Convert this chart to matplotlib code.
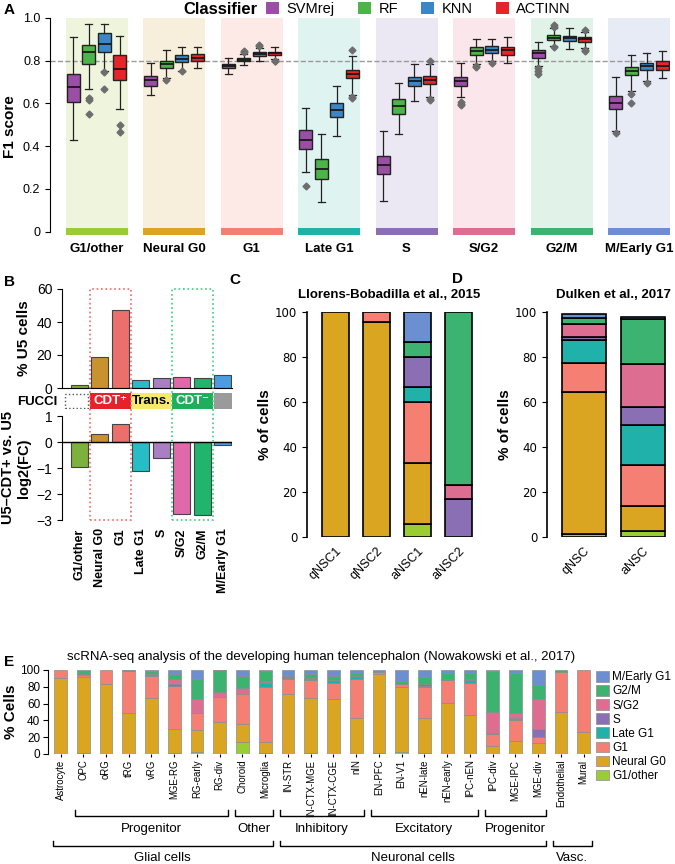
import matplotlib
matplotlib.use("Agg")
import matplotlib.pyplot as plt
from matplotlib.patches import Patch, Rectangle
from matplotlib.transforms import blended_transform_factory
import numpy as np

plt.rcParams['font.family'] = ['Liberation Sans', 'DejaVu Sans']

W, H = 675, 864

# ---- shared phase info ----
phases = ["G1/other", "Neural G0", "G1", "Late G1", "S", "S/G2", "G2/M", "M/Early G1"]
phase_colors = ["#9acd32", "#daa520", "#f47f72", "#20b2aa", "#8a6fb5", "#dd6e92", "#3cb371", "#6b8fd1"]
phase_bg = ["#eef5dc", "#f7efdb", "#fdeae6", "#dff3f1", "#ebe8f3", "#fbe6ec", "#e1f2e8", "#e6ebf6"]

# ---- panel A: F1 scores (whislo, q1, med, q3, whishi) ----
classifiers = ["SVMrej", "RF", "KNN", "ACTINN"]
clf_colors = ["#9a4ea4", "#4db449", "#3a86c6", "#e52529"]

svm_box = [(0.43, 0.606, 0.677, 0.738, 0.91), (0.638, 0.683, 0.71, 0.73, 0.79),
           (0.738, 0.765, 0.775, 0.787, 0.812), (0.28, 0.388, 0.43, 0.475, 0.577),
           (0.145, 0.268, 0.31, 0.353, 0.47), (0.63, 0.683, 0.703, 0.725, 0.79),
           (0.775, 0.815, 0.835, 0.852, 0.888), (0.47, 0.573, 0.6, 0.635, 0.722)]
svm_fliers = [[], [], [], [0.215], [], [0.605, 0.598, 0.593], [0.765, 0.75, 0.74], [0.46]]

rf_box = [(0.667, 0.785, 0.84, 0.875, 0.97), (0.718, 0.765, 0.783, 0.8, 0.848),
          (0.78, 0.797, 0.805, 0.812, 0.832), (0.14, 0.247, 0.294, 0.34, 0.457),
          (0.457, 0.549, 0.59, 0.623, 0.695), (0.785, 0.828, 0.845, 0.862, 0.9),
          (0.87, 0.895, 0.908, 0.92, 0.955), (0.66, 0.732, 0.752, 0.772, 0.825)]
rf_fliers = [[0.625, 0.615, 0.55], [0.71], [0.84, 0.845], [], [], [0.775, 0.77],
             [0.865, 0.96, 0.965], [0.645, 0.6]]

knn_box = [(0.75, 0.84, 0.878, 0.93, 0.97), (0.754, 0.792, 0.81, 0.826, 0.862),
           (0.80, 0.822, 0.832, 0.842, 0.86), (0.45, 0.538, 0.569, 0.6, 0.68),
           (0.612, 0.68, 0.703, 0.725, 0.783), (0.8, 0.835, 0.852, 0.868, 0.9),
           (0.855, 0.893, 0.905, 0.918, 0.955), (0.705, 0.757, 0.775, 0.79, 0.835)]
knn_fliers = [[0.745, 0.667], [0.75], [0.87, 0.875], [], [], [0.79], [], [0.695]]

actinn_box = [(0.575, 0.71, 0.76, 0.826, 0.914), (0.765, 0.8, 0.815, 0.832, 0.862),
              (0.81, 0.825, 0.835, 0.843, 0.865), (0.64, 0.718, 0.738, 0.758, 0.82),
              (0.63, 0.69, 0.71, 0.728, 0.785), (0.79, 0.825, 0.848, 0.865, 0.91),
              (0.86, 0.888, 0.9, 0.91, 0.935), (0.72, 0.755, 0.775, 0.8, 0.845)]
actinn_fliers = [[0.5, 0.465], [], [0.8, 0.797], [0.85, 0.63, 0.625],
                 [0.62, 0.615, 0.80], [], [0.945, 0.85, 0.845], []]

# ---- panel B ----
pct_u5 = [2, 19, 47, 5, 6, 6.5, 6.3, 8]
log2fc = [-0.95, 0.3, 0.68, -1.12, -0.63, -2.78, -2.8, -0.1]
b_colors = ["#7cb13b", "#c8932f", "#eb6f6b", "#27bcc6", "#a97fc1", "#e06aa9", "#21b46b", "#4b9de0"]

# ---- panel C (rows follow phases) ----
c_samples = ["qNSC1", "qNSC2", "aNSC1", "aNSC2"]
c_pct = [[0, 0, 6, 0], [100, 95.5, 27, 0], [0, 4.5, 27, 0], [0, 0, 6.5, 0],
         [0, 0, 13.5, 17], [0, 0, 0, 6], [0, 0, 6.5, 77], [0, 0, 13.5, 0]]

# ---- panel D ----
d_samples = ["qNSC", "aNSC"]
d_pct = [[1.5, 2.5], [63, 11.5], [13, 18], [10, 18], [1.5, 8], [5.5, 19], [3, 20], [1.5, 1]]

# ---- panel E ----
e_types = ["Astrocyte", "OPC", "oRG", "tRG", "vRG", "MGE-RG", "RG-early", "RG-div", "Choroid",
           "Microglia", "IN-STR", "IN-CTX-MGE", "IN-CTX-CGE", "nIN", "EN-PFC", "EN-V1",
           "nEN-late", "nEN-early", "IPC-nEN", "IPC-div", "MGE-IPC", "MGE-div",
           "Endothelial", "Mural"]
e_g1other = [0.5, 1.5, 0, 0, 0, 1, 2, 0, 14, 1, 0.5, 1, 0.5, 0, 1, 2, 1, 0, 0, 0, 0, 0, 0, 0]
e_neuralg0 = [89.5, 90.5, 83, 49, 67, 29, 26, 38.5, 22, 13.5, 71.5, 66, 64.5, 43, 94, 78, 42, 61,
              47, 10, 15.5, 13.5, 50, 26]
e_g1 = [10, 1.5, 17, 50, 26, 50.5, 21, 29.5, 36, 65.5, 17, 21, 19, 46, 3, 3, 37, 27, 37.5, 14,
        24.5, 7, 47.5, 74]
e_lateg1 = [0, 0, 0, 0.5, 0.5, 1, 0, 0, 0, 4, 1, 1.5, 4, 3.5, 0, 0.5, 1.5, 1, 3.5, 0, 1.5, 0, 0, 0]
e_s = [0, 0, 0, 0, 1, 1.5, 0, 0, 0, 1.5, 0.5, 0.5, 0, 0, 0, 0, 1.5, 0.5, 1, 0.5, 1, 9.5, 0, 0]
e_sg2 = [0, 1.5, 0, 0, 1, 6.5, 17, 6, 6.5, 1.5, 0, 0, 0, 0, 0, 0, 0.5, 0, 0, 25, 6, 35, 0, 0]
e_g2m = [0, 5, 0, 0.5, 3, 5.5, 23, 25.5, 14.5, 12, 2, 5, 5, 4, 0, 4, 8.5, 6.5, 7, 49.5, 48.5,
         17.5, 2.5, 0]
e_mearly = [0, 0, 0, 0, 1.5, 5, 11, 0.5, 7, 1, 7.5, 5, 7, 3.5, 2, 12.5, 8, 4, 4, 1, 3, 17.5, 0, 0]
e_groups1 = [("Progenitor", 1, 7), ("Other", 8, 9), ("Inhibitory", 10, 13),
             ("Excitatory", 14, 18), ("Progenitor", 19, 21)]
e_groups2 = [("Glial cells", 0, 9), ("Neuronal cells", 10, 21), ("Vasc.", 22, 23)]


fig = plt.figure(figsize=(W / 100, H / 100), dpi=100)


def px_axes(left, top, right, bottom):
    return fig.add_axes([left / W, 1 - bottom / H, (right - left) / W, (bottom - top) / H])


def panel_label(x, y, s):
    fig.text(x / W, 1 - y / H, s, fontsize=11, fontweight='bold', ha='left', va='center')


# ================= A =================
axA = px_axes(50, 18, 670, 236)
xs = np.arange(len(phases))
axA.bar(xs, 1.016, bottom=-0.016, width=0.8, color=phase_bg, zorder=0)
axA.bar(xs, 0.032, bottom=-0.016, width=0.8, color=phase_colors, zorder=1)
axA.axhline(0.8, color='#999999', ls='--', lw=1, zorder=1)

offsets = [-0.3, -0.1, 0.1, 0.3]
all_box = [svm_box, rf_box, knn_box, actinn_box]
all_fliers = [svm_fliers, rf_fliers, knn_fliers, actinn_fliers]
for j in range(4):
    stats = []
    for i in range(len(phases)):
        lo, q1, med, q3, hi = all_box[j][i]
        stats.append(dict(whislo=lo, q1=q1, med=med, q3=q3, whishi=hi, fliers=all_fliers[j][i]))
    bp = axA.bxp(stats, positions=xs + offsets[j], widths=0.17, patch_artist=True,
                 manage_ticks=False, zorder=3,
                 boxprops=dict(edgecolor='#222222', linewidth=1),
                 medianprops=dict(color='#111111', linewidth=1.2),
                 whiskerprops=dict(color='#222222', linewidth=0.9),
                 capprops=dict(color='#222222', linewidth=0.9),
                 capwidths=0.09,
                 flierprops=dict(marker='D', markerfacecolor='#6d6d6d',
                                 markeredgecolor='#6d6d6d', markersize=3.5))
    for b in bp['boxes']:
        b.set_facecolor(clf_colors[j])

axA.set_xlim(-0.6, 7.4)
axA.set_ylim(-0.02, 1.0)
axA.set_yticks([0, 0.2, 0.4, 0.6, 0.8, 1.0], ["0", "0.2", "0.4", "0.6", "0.8", "1.0"], fontsize=9)
axA.set_xticks(xs, phases, fontweight='bold', fontsize=9.5)
axA.tick_params(axis='x', length=0, pad=5)
for s in ['top', 'right', 'bottom']:
    axA.spines[s].set_visible(False)
axA.spines['left'].set_bounds(0, 1)
axA.set_ylabel("F1 score", fontweight='bold', fontsize=11, labelpad=4)

fig.text(183 / W, 1 - 9 / H, "Classifier", fontsize=12, fontweight='bold', va='center', ha='left')
handles = [Patch(facecolor=c, edgecolor='none') for c in clf_colors]
fig.legend(handles, classifiers, ncol=4, loc='center left', bbox_to_anchor=(266 / W, 1 - 9 / H),
           frameon=False, fontsize=10.5, handlelength=0.9, handleheight=0.9,
           handletextpad=0.5, columnspacing=1.6, borderaxespad=0, borderpad=0)

panel_label(4, 10, "A")

# ================= B =================
axB1 = px_axes(62, 289, 232, 388)
axB1.bar(xs, pct_u5, width=0.82, color=b_colors, edgecolor='#444444', lw=0.8)
axB1.set_xlim(-0.85, 7.45)
axB1.set_ylim(0, 60)
axB1.set_yticks([0, 20, 40, 60])
axB1.tick_params(axis='y', labelsize=10)
axB1.set_xticks([])
for s in ['top', 'right']:
    axB1.spines[s].set_visible(False)
axB1.set_ylabel("% U5 cells", fontweight='bold', fontsize=11)

axF = px_axes(62, 393, 232, 409)
axF.set_xlim(-0.85, 7.45)
axF.set_ylim(0, 1)
axF.axis('off')
axF.add_patch(Rectangle((-0.72, 0.04), 1.14, 0.92, fill=False, ls=':', ec='#555555', lw=1))
fucci = [(0.5, 2.0, "#e8202a", "CDT⁺", "white"), (2.55, 1.9, "#f5ea6a", "Trans.", "black"),
         (4.5, 2.0, "#1fae5a", "CDT⁻", "white"), (6.55, 0.9, "#9a9a9a", "", "white")]
for x0, w, col, lab, tc in fucci:
    axF.add_patch(Rectangle((x0, 0), w, 1, color=col, lw=0))
    axF.text(x0 + w / 2, 0.5, lab, color=tc, fontweight='bold', fontsize=9.5, ha='center', va='center')
fig.text(57 / W, 1 - 402 / H, "FUCCI", fontsize=9.5, fontweight='bold', ha='right', va='center')

axB2 = px_axes(62, 416, 232, 520)
axB2.bar(xs, log2fc, width=0.82, color=b_colors, edgecolor='#444444', lw=0.8)
axB2.axhline(0, color='black', lw=1)
axB2.set_xlim(-0.85, 7.45)
axB2.set_ylim(-3, 1)
axB2.set_yticks([-3, -2, -1, 0, 1], ["\u22123", "\u22122", "\u22121", "0", "1"], fontsize=10)
axB2.set_xticks(xs, phases, rotation=90, fontweight='bold', fontsize=9)
axB2.tick_params(axis='x', length=0, pad=6)
for s in ['top', 'right', 'bottom']:
    axB2.spines[s].set_visible(False)
axB2.set_ylabel("U5\u2013CDT+ vs. U5\nlog2(FC)", fontweight='bold', fontsize=10.5)

trans = blended_transform_factory(axB1.transData, fig.transFigure)
y_top = 1 - 289 / H
y_bot = 1 - 520 / H
fig.add_artist(Rectangle((0.5, y_bot), 2.0, y_top - y_bot, transform=trans, fill=False,
                         ls=':', ec='#f06a6a', lw=1.2, clip_on=False))
fig.add_artist(Rectangle((4.5, y_bot), 2.0, y_top - y_bot, transform=trans, fill=False,
                         ls=':', ec='#3dcc80', lw=1.2, clip_on=False))
panel_label(4, 282, "B")


# ================= C / D =================
def stacked(ax, samples, table, width):
    x = np.arange(len(samples))
    cum = np.zeros(len(samples))
    for k, row in enumerate(table):
        v = np.array(row, dtype=float)
        m = v > 0
        ax.bar(x[m], v[m], bottom=cum[m], width=width, color=phase_colors[k],
               edgecolor='black', lw=1.2)
        cum += v
    ax.set_ylim(0, 100)
    ax.set_yticks([0, 20, 40, 60, 80, 100])
    ax.tick_params(axis='y', labelsize=8.5)
    for lab in ax.get_yticklabels():
        lab.set_family('DejaVu Sans')
    ax.set_xticks(x, samples, rotation=45, ha='right', rotation_mode='anchor', fontsize=9)
    ax.tick_params(axis='x', length=0, pad=6)
    for s in ['top', 'right', 'bottom']:
        ax.spines[s].set_visible(False)
    ax.spines['left'].set_linewidth(1.2)
    ax.set_ylabel("% of cells", fontweight='bold', fontsize=11, labelpad=2)


axC = px_axes(307, 312, 479, 537)
stacked(axC, c_samples, c_pct, 0.67)
axC.set_xlim(-0.7, 3.5)
fig.text(389 / W, 1 - 295 / H, "Llorens-Bobadilla et al., 2015", fontsize=9.5,
         fontweight='bold', ha='center', va='center')
panel_label(229, 280, "C")

axD = px_axes(547, 312, 674, 537)
stacked(axD, d_samples, d_pct, 0.75)
axD.set_xlim(-0.63, 1.53)
fig.text(613 / W, 1 - 295 / H, "Dulken et al., 2017", fontsize=9.5,
         fontweight='bold', ha='center', va='center')
panel_label(452, 279, "D")

# ================= E =================
axE = px_axes(48, 670, 595, 754)
e_rows = [e_g1other, e_neuralg0, e_g1, e_lateg1, e_s, e_sg2, e_g2m, e_mearly]
xe = np.arange(len(e_types))
cum = np.zeros(len(e_types))
for k, row in enumerate(e_rows):
    v = np.array(row, dtype=float)
    m = v > 0
    axE.bar(xe[m], v[m], bottom=cum[m], width=0.56, color=phase_colors[k],
            edgecolor='#8c8c8c', lw=0.5)
    cum += v
axE.set_xlim(-0.55, 23.5)
axE.set_ylim(0, 100)
axE.set_yticks([0, 20, 40, 60, 80, 100])
axE.tick_params(axis='y', labelsize=8.5, pad=2)
axE.set_xticks(xe, e_types, rotation=90, fontsize=6.9)
axE.tick_params(axis='x', length=2.5, pad=1.5)
for s in ['top', 'right', 'bottom']:
    axE.spines[s].set_visible(False)
axE.set_ylabel("% Cells", fontweight='bold', fontsize=11, labelpad=2)
axE.set_title("scRNA-seq analysis of the developing human telencephalon (Nowakowski et al., 2017)",
              fontsize=9.5, pad=7)

tx = axE.get_xaxis_transform()


def bracket(x0, x1, y, label, ty):
    axE.plot([x0 - 0.35, x0 - 0.35, x1 + 0.35, x1 + 0.35], [y + 0.07, y, y, y + 0.07],
             transform=tx, color='black', lw=1, clip_on=False)
    axE.text((x0 + x1) / 2, ty, label, transform=tx, ha='center', va='center', fontsize=9.5)


for lab, a, b in e_groups1:
    bracket(a, b, -0.74, lab, -0.89)
for lab, a, b in e_groups2:
    bracket(a, b, -1.1, lab, -1.24)

leg_handles = [Patch(facecolor=phase_colors[k], edgecolor='#8c8c8c', lw=0.5)
               for k in range(len(phases) - 1, -1, -1)]
axE.legend(leg_handles, phases[::-1], loc='upper left', bbox_to_anchor=(0.995, 1.03),
           frameon=False, fontsize=8.5, handlelength=1.1, handleheight=1.0,
           labelspacing=0.15, handletextpad=0.3, borderaxespad=0.2, borderpad=0.1)
panel_label(4, 662, "E")

fig.savefig("out.png", dpi=100)
